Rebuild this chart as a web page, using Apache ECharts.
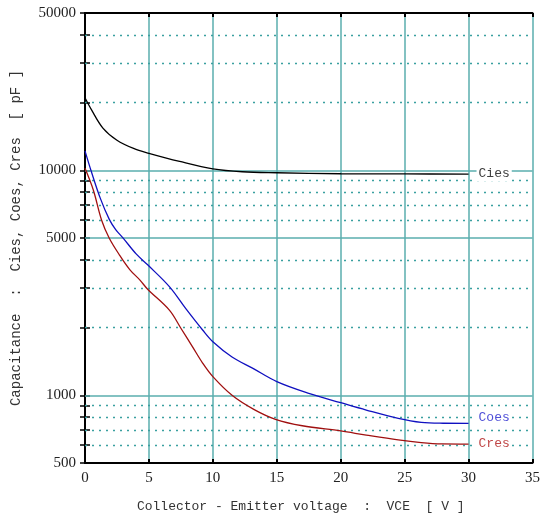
<!DOCTYPE html>
<html><head><meta charset="utf-8">
<script src="https://cdn.jsdelivr.net/npm/echarts@6/dist/echarts.min.js"></script>
<style>html,body{margin:0;padding:0;background:#fff}#c{width:543px;height:518px}</style>
</head><body><div id="c"></div>
<script>
// Data
const ciesData = [[0,21000],[0.5,18600],[1.4,15400],[2.5,13600],[3.8,12500],[5,11900],[7.4,10950],[10,10150],[12.3,9850],[15,9750],[20,9650],[25,9630],[30,9620]];
const coesData = [[0,12200],[0.5,9850],[1.2,7500],[1.9,6050],[2.4,5450],[3,4980],[4,4250],[4.9,3800],[6.6,3040],[7.9,2420],[9.2,1950],[10,1730],[11.5,1480],[13.1,1320],[15,1150],[17.5,1020],[20,927],[22,860],[24.5,790],[26.3,758],[28,751],[30,750]];
const cresData = [[0,10200],[0.65,8170],[1.3,6000],[1.9,4990],[2.7,4200],[3.5,3620],[4.3,3250],[4.9,2960],[6.6,2390],[7.5,1985],[8.4,1645],[9.2,1390],[10,1210],[11.5,1000],[13.2,866],[14.9,782],[17,732],[20,694],[22,665],[24.5,633],[26.3,616],[27.9,608],[30,607]];
const seriesNames = ['Cies','Coes','Cres'];
const labelAnchors = [[32,9650],[32,795],[32,608]];
const yLabelValues = [500,1000,5000,10000,50000];
const yMajorGrid = [1000,5000,10000];
const yMinorGrid = [600,700,800,900,2000,3000,4000,6000,7000,8000,9000,20000,30000,40000];
const yTickValues = [500,600,700,800,900,1000,2000,3000,4000,5000,6000,7000,8000,9000,10000,20000,30000,40000,50000];
const xTitle = 'Collector - Emitter voltage  :  VCE  [ V ]';
const yTitle = 'Capacitance  :  Cies, Coes, Cres  [ pF ]';

const teal = '#5aaeae';
const mono = '"Liberation Mono", monospace';
const serif = '"Liberation Serif", serif';

function gridMarkLines() {
  const d = [];
  yMajorGrid.forEach(v => d.push({yAxis: v, lineStyle: {color: teal, width: 1.5, type: 'solid'}}));
  yMinorGrid.forEach(v => d.push({yAxis: v, lineStyle: {color: '#3aa0a0', width: 1.3, type: [2, 5]}}));
  return {silent: true, symbol: 'none', label: {show: false}, animation: false, data: d};
}

const colors = ['#000000', '#1010c0', '#a01010'];
const labelColors = ['#404040', '#5050d8', '#c04848'];
const datas = [ciesData, coesData, cresData];

const series = datas.map((d, i) => ({
  name: seriesNames[i], type: 'line', data: d, showSymbol: false, smooth: 0.35,
  lineStyle: {color: colors[i], width: 1.3}, z: 5,
  markLine: i === 0 ? gridMarkLines() : undefined,
  markPoint: {
    symbol: 'circle', symbolSize: 0, silent: true,
    data: [{coord: labelAnchors[i]}],
    label: {show: true, position: 'inside', formatter: seriesNames[i], color: labelColors[i],
      fontFamily: mono, fontSize: 13, backgroundColor: '#fff', padding: [1, 2]}
  }
}));

const chart = echarts.init(document.getElementById('c'), null, {renderer: 'canvas'});
chart.setOption({
  animation: false,
  grid: {left: 85, right: 8, top: 13, bottom: 55, show: false},
  xAxis: [{
    type: 'value', min: 0, max: 35, interval: 5,
    name: xTitle, nameLocation: 'middle', nameGap: 37,
    nameTextStyle: {fontFamily: mono, fontSize: 13, color: '#333', padding: [0, 16, 0, 0]},
    axisLine: {show: true, lineStyle: {color: '#000', width: 2}},
    axisTick: {show: true, inside: true, length: 4, lineStyle: {color: '#000', width: 2}},
    axisLabel: {fontFamily: serif, fontSize: 15, color: '#222', margin: 8},
    splitLine: {show: true, lineStyle: {color: teal, width: 1.5}}
  }, {
    type: 'value', min: 0, max: 35, interval: 5, position: 'top',
    axisLine: {show: true, lineStyle: {color: '#000', width: 2}},
    axisTick: {show: true, inside: true, length: 4, lineStyle: {color: '#000', width: 2}},
    axisLabel: {show: false}, splitLine: {show: false}
  }],
  yAxis: [{
    type: 'log', logBase: 10, min: 500, max: 50000,
    name: yTitle, nameLocation: 'middle', nameGap: 62, nameRotate: 90,
    nameTextStyle: {fontFamily: mono, fontSize: 14, color: '#333'},
    axisLine: {show: true, lineStyle: {color: '#000', width: 2}},
    axisTick: {show: true, inside: true, length: 5, customValues: yTickValues, lineStyle: {color: '#000', width: 1.5}},
    axisLabel: {fontFamily: serif, fontSize: 15, color: '#222', margin: 9, customValues: yLabelValues,
      formatter: v => String(Math.round(v))},
    splitLine: {show: false}, minorTick: {show: false}, minorSplitLine: {show: false}
  }, {
    type: 'log', logBase: 10, min: 500, max: 50000, position: 'right',
    axisLine: {show: true, lineStyle: {color: '#000', width: 2}},
    axisTick: {show: true, inside: true, length: 5, customValues: yTickValues, lineStyle: {color: '#000', width: 1.5}},
    axisLabel: {show: false}, splitLine: {show: false}
  }],
  series: series
});
</script></body></html>
